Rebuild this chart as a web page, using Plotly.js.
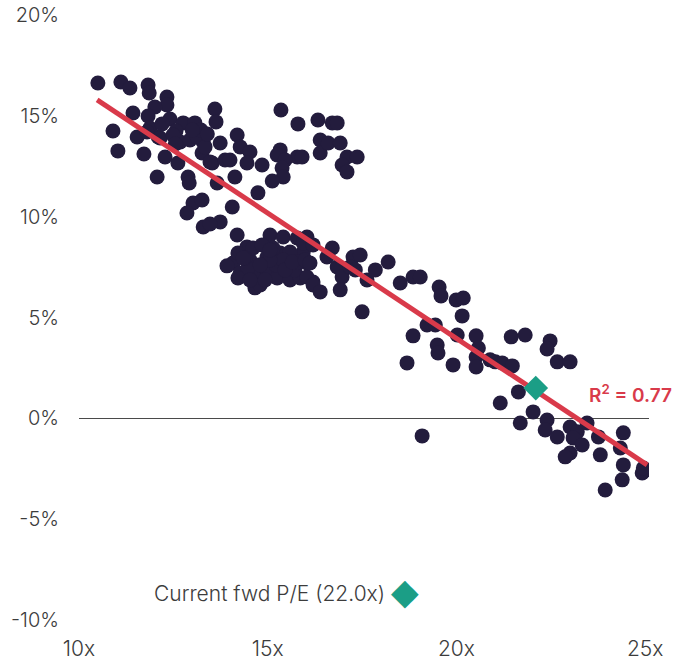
<!DOCTYPE html>
<html>
<head>
<meta charset="utf-8">
<script src="https://cdn.plot.ly/plotly-3.0.1.min.js"></script>
<style>html,body{margin:0;padding:0;background:#fff;}#chart{width:686px;height:667px;}</style>
</head>
<body>
<div id="chart"></div>
<script>
// Forward P/E (x) for each observation
const peX = [
10.50,11.11,11.35,11.83,11.86,12.33,12.33,11.43,12.01,11.83,12.41,10.90,11.54,11.88,12.10,12.76,13.07,12.57,12.68,12.94,
13.29,11.03,11.72,12.28,12.62,13.26,12.07,12.89,11.80,12.15,12.49,13.13,13.34,13.74,14.19,14.27,14.53,13.53,13.87,14.13,
14.45,14.85,12.92,13.66,14.74,13.02,13.26,12.86,14.06,13.29,13.74,13.47,14.19,13.60,13.63,15.35,15.80,16.33,16.71,16.84,
14.00,15.33,15.25,15.78,15.91,15.46,15.38,15.41,15.12,16.39,16.39,16.60,16.92,17.10,17.37,16.97,17.10,13.47,13.23,
14.45,15.06,15.41,15.78,16.04,14.08,14.53,14.98,15.33,15.51,14.66,14.98,15.25,14.66,15.59,15.94,16.04,15.86,16.20,14.61,
14.21,14.27,14.48,14.80,15.14,14.85,15.59,15.72,15.80,15.22,15.41,15.06,13.92,14.21,14.40,14.35,14.80,14.93,14.53,15.46,
15.65,15.06,12.55,13.00,13.40,12.20,
15.94,16.20,16.71,16.57,16.84,16.97,17.26,17.45,17.18,17.32,17.63,17.85,18.19,18.51,18.85,19.04,16.04,16.20,16.39,16.92,
17.50,15.99,16.12,
19.54,19.59,19.99,20.18,20.15,18.85,19.22,19.44,19.49,19.51,20.02,20.52,20.58,20.52,20.52,19.91,18.69,21.03,21.21,21.48,
21.45,21.82,22.48,22.40,22.67,23.01,20.89,21.64,21.16,22.03,21.69,22.40,22.35,22.67,23.01,23.20,23.09,23.33,23.46,23.76,
24.42,24.34,23.81,23.01,22.88,24.42,24.39,24.92,24.95,23.94,19.09
];
// Subsequent return (%) for each observation
const retY = [
16.63,16.68,16.38,16.53,16.13,15.93,15.54,15.14,15.44,14.99,14.84,14.25,13.95,14.40,13.95,14.65,14.65,14.25,13.70,13.80,
13.70,13.26,13.11,12.96,12.66,13.16,11.97,11.97,14.20,13.90,14.05,13.95,13.46,13.65,14.05,13.46,13.21,12.66,12.81,11.97,
12.66,12.56,11.67,11.67,11.18,10.68,10.83,10.18,10.48,9.49,9.74,9.64,9.09,15.34,14.70,15.29,14.60,14.79,14.65,14.65,
12.81,13.31,13.06,12.96,12.96,12.81,12.41,11.97,11.77,13.80,13.16,13.65,13.65,12.96,12.96,12.56,12.22,12.71,14.30,
8.50,9.09,8.99,8.94,8.99,7.70,7.85,8.00,8.20,7.70,7.21,7.36,6.96,6.47,6.86,8.25,7.70,6.96,6.76,8.45,
8.20,7.21,7.46,6.61,8.45,8.60,8.25,7.36,7.75,7.61,7.85,7.85,7.56,6.96,7.95,7.95,7.61,6.86,6.86,7.36,
7.75,8.35,13.60,14.30,14.10,14.60,
8.70,8.60,8.45,8.00,7.51,7.01,8.00,8.10,7.51,7.36,6.86,7.36,7.75,6.71,7.01,7.01,7.01,6.61,6.27,6.37,
5.28,7.85,7.70,
6.51,6.07,5.87,5.97,5.08,4.09,4.63,4.63,3.64,3.24,4.13,4.09,3.49,3.04,2.55,2.65,2.75,2.80,2.75,2.60,
4.04,4.13,3.84,3.44,2.80,2.80,2.90,1.31,0.76,0.32,-0.23,-0.08,-0.58,-0.92,-0.43,-0.67,-0.97,-1.32,-0.23,-0.92,
-0.72,-1.47,-1.81,-1.72,-1.91,-2.31,-3.05,-2.71,-2.46,-3.55,-0.87
];
// Fitted regression line endpoints
const fitX = [10.48, 25.05];
const fitY = [15.79, -2.31];
const rSquared = "0.77";
// Current forward P/E point
const currentX = [22.1];
const currentY = [1.5];
const currentLabel = "Current fwd P/E (22.0x)";
// Axis ticks
const xTickVals = [10, 15, 20, 25];
const xTickText = ["10x", "15x", "20x", "25x"];
const yTickVals = [-10, -5, 0, 5, 10, 15, 20];
const yTickText = ["-10%", "-5%", "0%", "5%", "10%", "15%", "20%"];

const navy = "#231c3d";
const red = "#d93a4a";
const teal = "#1b9e86";
const fontFam = "Inter, 'Open Sans', sans-serif";

const traces = [
  {x: peX, y: retY, type: "scatter", mode: "markers",
   marker: {color: navy, size: 15, line: {width: 0}}, hoverinfo: "skip", showlegend: false},
  {x: fitX, y: fitY, type: "scatter", mode: "lines",
   line: {color: red, width: 5}, hoverinfo: "skip", showlegend: false},
  {x: currentX, y: currentY, type: "scatter", mode: "markers",
   marker: {color: teal, size: 19, symbol: "diamond"}, hoverinfo: "skip", showlegend: false}
];

const layout = {
  width: 686, height: 667,
  margin: {l: 79, r: 37, t: 15, b: 47},
  paper_bgcolor: "#fff", plot_bgcolor: "#fff",
  showlegend: false,
  font: {family: fontFam, size: 19, color: "#3c3c3c"},
  xaxis: {range: [10, 25.1], tickvals: xTickVals, ticktext: xTickText,
          showgrid: false, zeroline: false, showline: false, ticks: "",
          tickfont: {family: fontFam, size: 21, color: "#3c3c3c", weight: 300},
          ticklabelstandoff: 14},
  yaxis: {range: [-10, 20], tickvals: yTickVals, ticktext: yTickText,
          showgrid: false, showline: false, ticks: "",
          zeroline: true, zerolinecolor: "#4a4a4a", zerolinewidth: 1,
          tickfont: {family: fontFam, size: 20, color: "#3c3c3c", weight: 300},
          ticklabelstandoff: 19},
  annotations: [
    {x: 23.46, y: 1.2, xref: "x", yref: "y", xanchor: "left", yanchor: "middle",
     text: "R<sup>2</sup> = " + rSquared, showarrow: false,
     font: {family: fontFam, size: 19, color: red, weight: 600}},
    {x: 11.93, y: -8.7, xref: "x", yref: "y", xanchor: "left", yanchor: "middle",
     text: currentLabel, showarrow: false,
     font: {family: fontFam, size: 21, color: "#3c3c3c", weight: 300}},
    {x: 18.64, y: -8.6, xref: "x", yref: "y", xanchor: "center", yanchor: "middle",
     text: "◆", showarrow: false,
     font: {family: "DejaVu Sans", size: 36, color: teal}}
  ]
};

Plotly.newPlot("chart", traces, layout, {displayModeBar: false, staticPlot: true});
</script>
</body>
</html>
